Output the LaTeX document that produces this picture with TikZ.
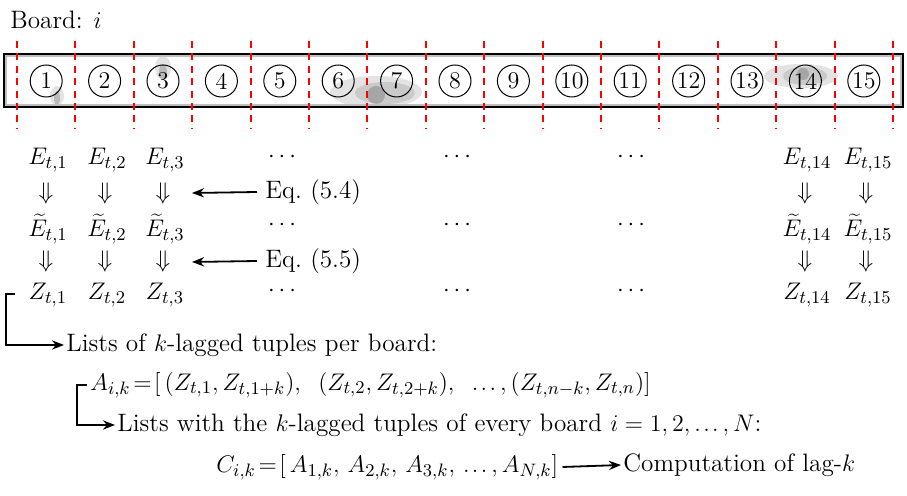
\documentclass[tikz,border=0pt]{standalone}
\usetikzlibrary{arrows.meta}
\newcommand{\tdots}{\mathinner{.\kern1.2pt.\kern1.2pt.}}
\begin{document}
\begin{tikzpicture}[x=0.5pt,y=-0.5pt,
  txt/.style={inner sep=1pt, font=\fontsize{12.6}{15}\selectfont},
  arr/.style={inner sep=0pt, font=\fontsize{12.6}{15}\selectfont},
  boardnum/.style={draw, circle, minimum size=16pt, inner sep=0pt, line width=0.5pt, font=\fontsize{12}{14}\selectfont},
  sep/.style={red, line width=1pt, dash pattern=on 3.5pt off 2.7pt},
  conn/.style={line width=0.9pt, -{Stealth[length=6pt,width=4.6pt]}},
  blob/.style={fill=black, opacity=0.11},
  blobd/.style={fill=black, opacity=0.18}]
\useasboundingbox (0,0) rectangle (907,496);

% title
\node[txt, anchor=west] (title) at (8,20) {Board: $i$};

% gray blobs
\fill[blob] (57,96) ellipse [x radius=7, y radius=10];
\fill[blobd] (57,98) ellipse [x radius=3, y radius=7];
\fill[blob] (163,68) ellipse [x radius=8, y radius=12];
\fill[blobd] (163,72) ellipse [x radius=4, y radius=8];
\fill[blob] (376,92) ellipse [x radius=46, y radius=16];
\fill[blob] (385,93) ellipse [x radius=30, y radius=11];
\fill[blobd] (376,95) ellipse [x radius=9, y radius=9];
\fill[blob] (801,76) ellipse [x radius=37, y radius=12];
\fill[blob] (805,76) ellipse [x radius=22, y radius=9];
\fill[blobd] (803,74) ellipse [x radius=6, y radius=6];

% board rectangle
\draw[black!25, line width=0.6pt] (6,56) rectangle (901,105);
\draw[line width=1.2pt] (4,54) rectangle (903,107);

% circles
\foreach \i in {1,...,15}{
  \node[boardnum] (c\i) at ({17+58.4*(\i-1)+29.2},81) {\i};
}
% red separators
\foreach \i in {0,...,15}{
  \draw[sep] ({17+58.4*\i},41) -- ({17+58.4*\i},129);
}

% rows
\foreach \n/\x in {1/46,2/105,3/163,14/805,15/866}{
  \node[txt] (e\n) at (\x+2,160) {$E_{t,\n}$};
  \node[arr] (da\n) at (\x,194) {$\Downarrow$};
  \node[arr] (et\n) at (\x+2,229) {$\widetilde{E}_{t,\n}$};
  \node[arr] (db\n) at (\x,262) {$\Downarrow$};
  \node[txt] (z\n) at (\x+2,295) {$Z_{t,\n}$};
}
\foreach \j/\x in {1/282,2/457,3/631}{
  \node[arr] (ed\j) at (\x,157) {$\cdots$};
  \node[arr] (etd\j) at (\x,225) {$\cdots$};
  \node[arr] (zd\j) at (\x,291) {$\cdots$};
}

% Eq. labels
\node[txt, anchor=west] (eq4) at (263,192) {Eq.\ (5.4)};
\node[txt, anchor=west] (eq5) at (263,261) {Eq.\ (5.5)};
\coordinate (p4) at (192,193);
\coordinate (p5) at (192,262);
\draw[conn] ([xshift=-3pt]eq4.west) -- (p4);
\draw[conn] ([xshift=-3pt]eq5.west) -- (p5);

% lists per board
\node[txt, anchor=west] (lists1) at (64,345) {Lists of $k$-lagged tuples per board:};
\coordinate (t1) at (15,294);
\coordinate (k1) at (6,294);
\draw[conn] (t1) -- (k1) |- (lists1.west);

\node[txt, anchor=west] (alist) at (88,385)
  {$A_{i,k}\!=\!\big[\,\big(Z_{t,1},Z_{t,1+k}\big),\;\;\big(Z_{t,2},Z_{t,2+k}\big),\;\;\tdots,\big(Z_{t,n-k},Z_{t,n}\big)\big]$};
\coordinate (t2) at (87,385);
\coordinate (k2) at (77,385);

\node[txt, anchor=west] (lists2) at (115,425) {Lists with the $k$-lagged tuples of every board $i = 1,2,\tdots,N$:};
\draw[conn] (t2) -- (k2) |- (lists2.west);

\node[txt, anchor=west] (clist) at (214,467)
  {$C_{i,k}\!=\!\big[\,A_{1,k},\,A_{2,k},\,A_{3,k},\,\tdots,A_{N,k}\big]$};
\node[txt, anchor=west] (comp) at (621,465) {Computation of lag-$k$};
\draw[conn] ([xshift=1pt]clist.east) -- (comp.west);
\end{tikzpicture}
\end{document}
